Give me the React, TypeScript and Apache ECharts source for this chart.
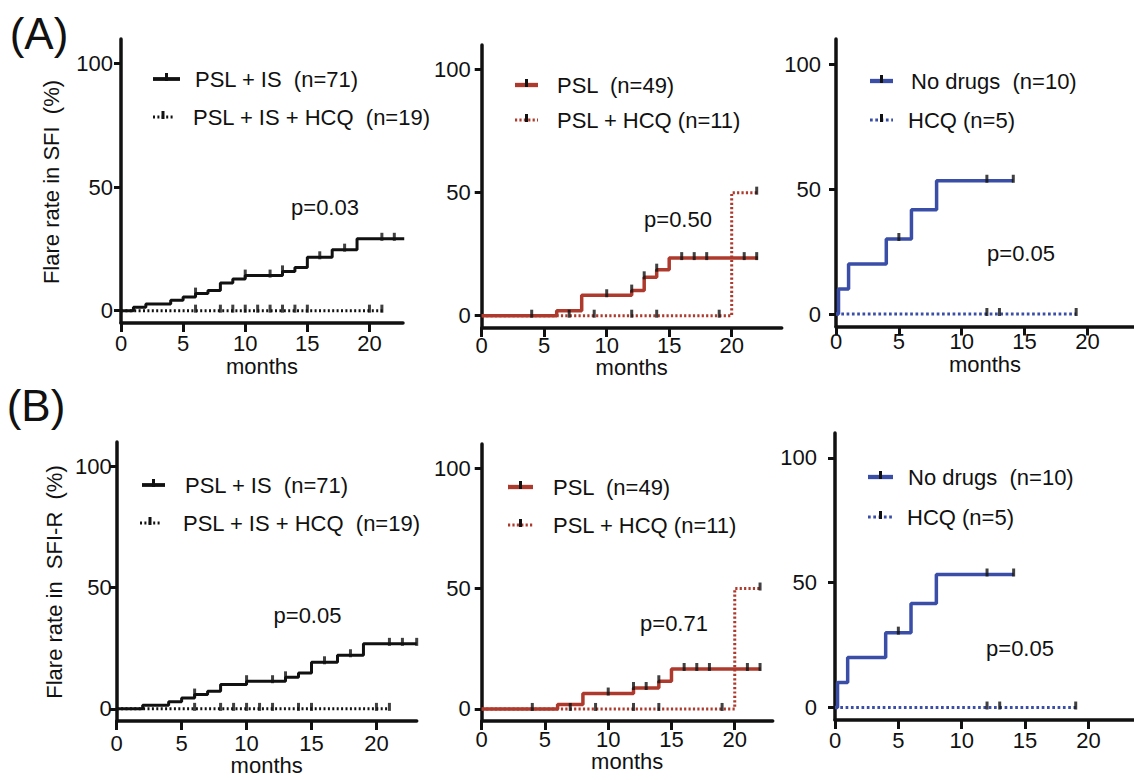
import React, { useEffect, useRef } from "react";
import * as echarts from "echarts";

const FONT = "'Liberation Sans', Arial, Helvetica, sans-serif";
const BLACK = "#111111";
const RED = "#ad3a2d";
const BLUE = "#3a4ea8";

const xTickValues = [0, 5, 10, 15, 20];
const yTickValues = [0, 50, 100];
const xAxisTitle = "months";

// ---- Panel A1: PSL + IS vs PSL + IS + HCQ (SFI)
const a1SolidTimes = [0, 1, 2, 4, 5, 6, 7, 8, 9, 10, 13, 14, 15, 17, 19, 22.8];
const a1SolidRates = [0, 1.4, 2.7, 4.2, 5.5, 6.9, 8.2, 11.2, 12.8, 14.2, 15.9, 17.5, 21.6, 24.7, 29.1, 29.1];
const a1SolidCensor = [6, 10, 12, 13, 16, 18, 21, 22];
const a1DotTimes = [0, 21.2];
const a1DotRates = [0, 0];
const a1DotCensor = [6, 8, 9, 10, 11, 12, 13, 14, 15, 20, 21];

// ---- Panel A2: PSL vs PSL + HCQ (SFI)
const a2SolidTimes = [0, 6, 8, 12, 13, 14, 15, 22.1];
const a2SolidRates = [0, 2, 8.3, 10.2, 15.6, 18.7, 23.4, 23.4];
const a2SolidCensor = [4, 10, 12, 13, 14, 16, 17, 18, 21, 22];
const a2DotTimes = [0, 20, 22.1];
const a2DotRates = [0, 50, 50];
const a2DotCensor = [7, 9, 12, 14, 19, 22];

// ---- Panel A3: No drugs vs HCQ (SFI)
const a3SolidTimes = [0, 0.2, 1, 4, 6, 8, 14.1];
const a3SolidRates = [0, 10, 20, 30, 41.7, 53.3, 53.3];
const a3SolidCensor = [5, 12, 14.1];
const a3DotTimes = [0, 19.1];
const a3DotRates = [0, 0];
const a3DotCensor = [12, 13, 19.1];

// ---- Panel B1: PSL + IS vs PSL + IS + HCQ (SFI-R)
const b1SolidTimes = [0, 2, 4, 5, 6, 7, 8, 10, 13, 14, 15, 17, 19, 23.1];
const b1SolidRates = [0, 1.5, 2.9, 4.5, 5.9, 7.3, 10.0, 11.4, 13.0, 14.8, 19.2, 22.1, 26.8, 26.8];
const b1SolidCensor = [6, 10, 12, 13, 16, 18, 21, 22, 23.1];
const b1DotTimes = [0, 21];
const b1DotRates = [0, 0];
const b1DotCensor = [6, 8, 9, 10, 11, 12, 14, 15, 20, 21];

// ---- Panel B2: PSL vs PSL + HCQ (SFI-R)
const b2SolidTimes = [0, 6, 8, 12, 14, 15, 22.05];
const b2SolidRates = [0, 1.8, 6.4, 8.7, 11.5, 16.6, 16.6];
const b2SolidCensor = [4, 10, 12, 13, 14, 16, 17, 18, 21, 22];
const b2DotTimes = [0, 20, 22.05];
const b2DotRates = [0, 50, 50];
const b2DotCensor = [7, 9, 12, 14, 19, 22];

// ---- Panel B3: No drugs vs HCQ (SFI-R)
const b3SolidTimes = [0, 0.2, 1, 4, 6, 8, 14.1];
const b3SolidRates = [0, 10, 20, 30, 41.7, 53.3, 53.3];
const b3SolidCensor = [5, 12, 14.1];
const b3DotTimes = [0, 19];
const b3DotRates = [0, 0];
const b3DotCensor = [12, 13, 19];

const legendA1 = ["PSL + IS  (n=71)", "PSL + IS + HCQ  (n=19)"];
const legendA2 = ["PSL  (n=49)", "PSL + HCQ (n=11)"];
const legendA3 = ["No drugs  (n=10)", "HCQ (n=5)"];
const pValues = ["p=0.03", "p=0.50", "p=0.05", "p=0.05", "p=0.71", "p=0.05"];
const yTitles = ["Flare rate in SFI  (%)", "Flare rate in  SFI-R  (%)"];
const panelLabels = ["(A)", "(B)"];

function rateAt(times: number[], rates: number[], t: number) {
  let v = rates[0];
  for (let i = 0; i < times.length; i++) if (times[i] <= t + 1e-9) v = rates[i];
  return v;
}

type Curve = { times: number[]; rates: number[]; censor: number[] };
type Panel = {
  grid: { left: number; top: number; width: number; height: number };
  xMax: number;
  xLabelMargin: number;
  yLabelMargin: number;
  monthsGap: number | null;
  color: string;
  solidWidth: number;
  dotWidth: number;
  dotDash: number[];
  solid: Curve;
  dotted: Curve;
  legend: string[];
  legendPos: { x1: number; x2: number; y: number; tx: number }[];
  p: string;
  pPos: [number, number];
};

const panels: Panel[] = [
  {
    grid: { left: 121, top: 39, width: 282, height: 284 },
    xMax: 22.7, xLabelMargin: 9, yLabelMargin: 8, monthsGap: 32,
    color: BLACK, solidWidth: 3, dotWidth: 3, dotDash: [2, 2.4],
    solid: { times: a1SolidTimes, rates: a1SolidRates, censor: a1SolidCensor },
    dotted: { times: a1DotTimes, rates: a1DotRates, censor: a1DotCensor },
    legend: legendA1,
    legendPos: [{ x1: 153, x2: 180, y: 79, tx: 195 }, { x1: 153, x2: 173, y: 117, tx: 193 }],
    p: pValues[0], pPos: [325, 207],
  },
  {
    grid: { left: 481.7, top: 45, width: 300, height: 283 },
    xMax: 24, xLabelMargin: 6, yLabelMargin: 11, monthsGap: 26,
    color: RED, solidWidth: 3.5, dotWidth: 3, dotDash: [2.2, 2.2],
    solid: { times: a2SolidTimes, rates: a2SolidRates, censor: a2SolidCensor },
    dotted: { times: a2DotTimes, rates: a2DotRates, censor: a2DotCensor },
    legend: legendA2,
    legendPos: [{ x1: 515, x2: 538, y: 85, tx: 557 }, { x1: 515, x2: 538, y: 120, tx: 557 }],
    p: pValues[1], pPos: [678, 219],
  },
  {
    grid: { left: 836, top: 39, width: 298, height: 287.5 },
    xMax: 23.7, xLabelMargin: 4, yLabelMargin: 15, monthsGap: 26,
    color: BLUE, solidWidth: 3.5, dotWidth: 3, dotDash: [2.7, 2.6],
    solid: { times: a3SolidTimes, rates: a3SolidRates, censor: a3SolidCensor },
    dotted: { times: a3DotTimes, rates: a3DotRates, censor: a3DotCensor },
    legend: legendA3,
    legendPos: [{ x1: 870, x2: 893, y: 81, tx: 911 }, { x1: 870, x2: 893, y: 120, tx: 908 }],
    p: pValues[2], pPos: [1021, 253],
  },
  {
    grid: { left: 116.7, top: 442, width: 300, height: 279 },
    xMax: 23.1, xLabelMargin: 11, yLabelMargin: 5, monthsGap: 30,
    color: BLACK, solidWidth: 3, dotWidth: 3, dotDash: [2, 2.4],
    solid: { times: b1SolidTimes, rates: b1SolidRates, censor: b1SolidCensor },
    dotted: { times: b1DotTimes, rates: b1DotRates, censor: b1DotCensor },
    legend: legendA1,
    legendPos: [{ x1: 142, x2: 165, y: 485, tx: 185 }, { x1: 140, x2: 160, y: 523, tx: 183 }],
    p: pValues[3], pPos: [307.5, 615],
  },
  {
    grid: { left: 481.7, top: 444, width: 291, height: 277 },
    xMax: 23, xLabelMargin: 7, yLabelMargin: 11, monthsGap: 28,
    color: RED, solidWidth: 3.5, dotWidth: 3, dotDash: [2.2, 2.2],
    solid: { times: b2SolidTimes, rates: b2SolidRates, censor: b2SolidCensor },
    dotted: { times: b2DotTimes, rates: b2DotRates, censor: b2DotCensor },
    legend: legendA2,
    legendPos: [{ x1: 508, x2: 533, y: 487, tx: 553 }, { x1: 508, x2: 533, y: 525, tx: 553 }],
    p: pValues[4], pPos: [674, 623],
  },
  {
    grid: { left: 835, top: 433, width: 299, height: 287 },
    xMax: 23.6, xLabelMargin: 9, yLabelMargin: 18, monthsGap: null,
    color: BLUE, solidWidth: 3.5, dotWidth: 3, dotDash: [2.7, 2.6],
    solid: { times: b3SolidTimes, rates: b3SolidRates, censor: b3SolidCensor },
    dotted: { times: b3DotTimes, rates: b3DotRates, censor: b3DotCensor },
    legend: legendA3,
    legendPos: [{ x1: 868, x2: 893, y: 477, tx: 908 }, { x1: 868, x2: 893, y: 517, tx: 907 }],
    p: pValues[5], pPos: [1020, 648],
  },
];

function buildOption() {
  const grid: any[] = [];
  const xAxis: any[] = [];
  const yAxis: any[] = [];
  const series: any[] = [];
  const graphic: any[] = [];

  panels.forEach((p, i) => {
    grid.push({ ...p.grid, outerBoundsMode: "none", containLabel: false });
    xAxis.push({
      type: "value",
      gridIndex: i,
      min: 0,
      max: p.xMax,
      name: p.monthsGap === null ? "" : xAxisTitle,
      nameLocation: "middle",
      nameGap: p.monthsGap ?? 0,
      nameTextStyle: { fontSize: 22, fontFamily: FONT, color: BLACK },
      axisLine: { show: true, onZero: false, lineStyle: { color: BLACK, width: 3.5 } },
      axisTick: { show: true, customValues: xTickValues, length: 9, lineStyle: { color: BLACK, width: 3 } },
      axisLabel: { show: true, customValues: xTickValues, margin: p.xLabelMargin, fontSize: 22, fontFamily: FONT, color: BLACK },
      splitLine: { show: false },
    });
    yAxis.push({
      type: "value",
      gridIndex: i,
      min: -5,
      max: 110,
      axisLine: { show: true, onZero: false, lineStyle: { color: BLACK, width: 3.5 } },
      axisTick: { show: true, customValues: yTickValues, length: 7, lineStyle: { color: BLACK, width: 3 } },
      axisLabel: { show: true, customValues: yTickValues, margin: p.yLabelMargin, fontSize: 22, fontFamily: FONT, color: BLACK },
      splitLine: { show: false },
    });

    const curves: [Curve, boolean][] = [[p.dotted, true], [p.solid, false]];
    curves.forEach(([c, dotted]) => {
      series.push({
        type: "line",
        xAxisIndex: i,
        yAxisIndex: i,
        step: "end",
        symbol: "none",
        silent: true,
        z: dotted ? 2 : 3,
        lineStyle: dotted
          ? { color: p.color, width: p.dotWidth, type: p.dotDash, cap: "butt" }
          : { color: p.color, width: p.solidWidth },
        data: c.times.map((t, k) => [t, c.rates[k]]),
      });
    });
    curves.forEach(([c]) => {
      series.push({
        type: "scatter",
        xAxisIndex: i,
        yAxisIndex: i,
        symbol: "rect",
        symbolSize: [3, 8],
        symbolOffset: [0, -2],
        silent: true,
        z: 5,
        itemStyle: { color: BLACK },
        data: c.censor.map((t) => [t, rateAt(c.times, c.rates, t)]),
      });
    });

    p.legendPos.forEach((lp, k) => {
      const dotted = k === 1;
      graphic.push({
        type: "line",
        shape: { x1: lp.x1, y1: lp.y, x2: lp.x2, y2: lp.y },
        style: dotted
          ? { stroke: p.color, lineWidth: p.dotWidth, lineDash: p.dotDash }
          : { stroke: p.color, lineWidth: p.solidWidth + 0.8 },
        silent: true,
      });
      const cx = (lp.x1 + lp.x2) / 2;
      graphic.push({
        type: "rect",
        shape: { x: cx - 1.5, y: lp.y - 6, width: 3, height: 8 },
        style: { fill: BLACK },
        silent: true,
      });
      graphic.push({
        type: "text",
        x: lp.tx,
        y: lp.y,
        style: { text: p.legend[k], fontSize: 22, fontFamily: FONT, fill: BLACK, align: "left", verticalAlign: "middle" },
        silent: true,
      });
    });

    graphic.push({
      type: "text",
      x: p.pPos[0],
      y: p.pPos[1],
      style: { text: p.p, fontSize: 22, fontFamily: FONT, fill: BLACK, align: "center", verticalAlign: "middle" },
      silent: true,
    });
  });

  graphic.push({
    type: "text",
    x: 51,
    y: 182,
    rotation: Math.PI / 2,
    style: { text: yTitles[0], fontSize: 22, fontFamily: FONT, fill: BLACK, align: "center", verticalAlign: "middle" },
    silent: true,
  });
  graphic.push({
    type: "text",
    x: 54,
    y: 582,
    rotation: Math.PI / 2,
    style: { text: yTitles[1], fontSize: 22, fontFamily: FONT, fill: BLACK, align: "center", verticalAlign: "middle" },
    silent: true,
  });
  graphic.push({
    type: "text",
    x: 39,
    y: 33,
    style: { text: panelLabels[0], fontSize: 44, fontFamily: FONT, fill: BLACK, align: "center", verticalAlign: "middle" },
    silent: true,
  });
  graphic.push({
    type: "text",
    x: 36,
    y: 405,
    style: { text: panelLabels[1], fontSize: 44, fontFamily: FONT, fill: BLACK, align: "center", verticalAlign: "middle" },
    silent: true,
  });

  return {
    animation: false,
    backgroundColor: "#ffffff",
    grid,
    xAxis,
    yAxis,
    series,
    graphic,
  };
}

export default function App() {
  const ref = useRef<HTMLDivElement>(null);
  useEffect(() => {
    document.body.style.margin = "0";
    if (!ref.current) return;
    const chart = echarts.init(ref.current, null, { renderer: "svg" });
    chart.setOption(buildOption() as any);
    return () => chart.dispose();
  }, []);
  return <div ref={ref} style={{ width: 1134, height: 780 }} />;
}
